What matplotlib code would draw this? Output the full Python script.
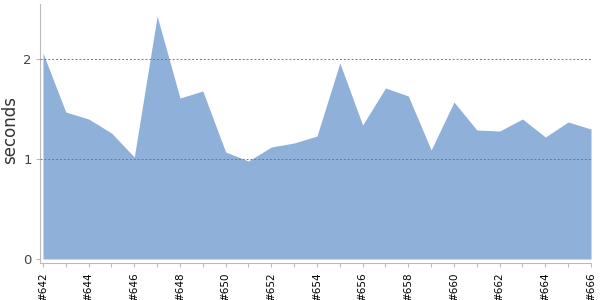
import numpy as np
import matplotlib
matplotlib.use('Agg')
import matplotlib.pyplot as plt

builds = ['#%d' % n for n in range(642, 667)]
seconds = [2.06, 1.47, 1.40, 1.26, 1.02, 2.43, 1.61, 1.68, 1.07, 0.98,
           1.12, 1.16, 1.23, 1.96, 1.34, 1.71, 1.63, 1.09, 1.57, 1.29,
           1.28, 1.40, 1.22, 1.37, 1.30]

x = np.arange(len(builds))

fig = plt.figure(figsize=(6, 3), dpi=100)
ax = fig.add_axes([40 / 600, 1 - 263 / 300, 551 / 600, 259 / 300])

ax.fill_between(x, seconds, 0, color='#8fb1d9', linewidth=0)

ax.set_xlim(-0.13, len(builds) - 1)
ax.set_ylim(-0.04, 2.55)

ax.set_yticks([0, 1, 2])
ax.set_yticklabels(['0', '1', '2'])
for y in [1, 2]:
    ax.axhline(y, color='#777777', linestyle=(0, (2, 2)), linewidth=0.7, zorder=3)

ax.set_xticks(x)
ax.set_xticklabels([b if i % 2 == 0 else '' for i, b in enumerate(builds)],
                   rotation=90, fontsize=7.5, color='black')
ax.tick_params(axis='x', length=3, width=0.8, color='#bbbbbb', pad=4)
ax.tick_params(axis='y', length=3, width=0.8, color='#bbbbbb', labelsize=9.5,
               labelcolor='#444444', pad=3)

for s in ['top', 'right']:
    ax.spines[s].set_visible(False)
for s in ['left', 'bottom']:
    ax.spines[s].set_color('#bbbbbb')
    ax.spines[s].set_linewidth(0.8)

ax.set_ylabel('seconds', fontsize=12, color='#333333')
ax.yaxis.set_label_coords(-0.038, 0.513)

fig.savefig('out.png')
